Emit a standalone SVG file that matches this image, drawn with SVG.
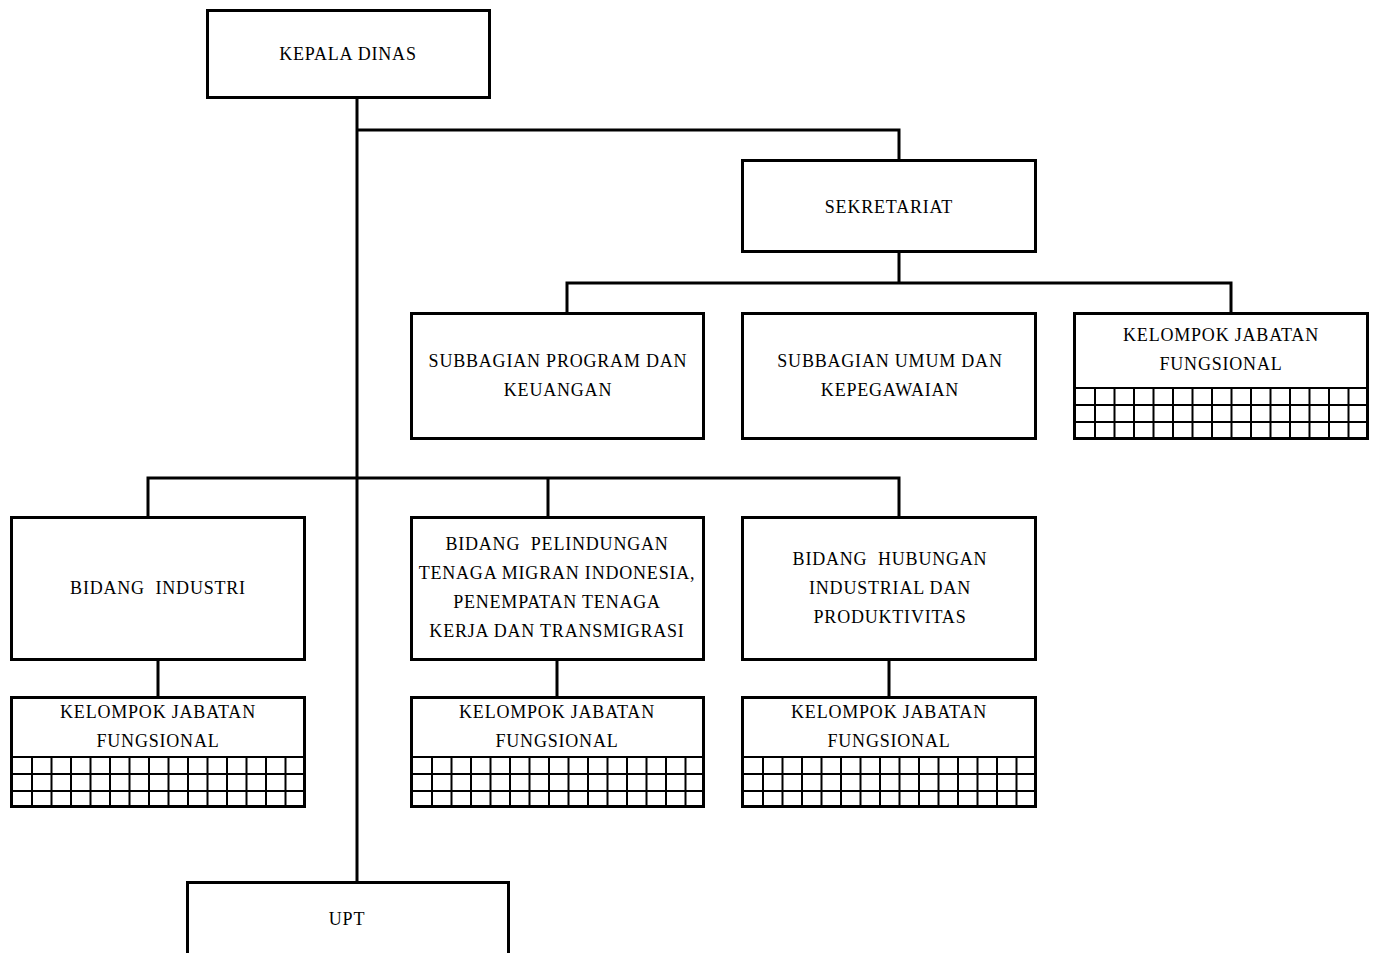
<svg xmlns="http://www.w3.org/2000/svg" width="1377" height="953" viewBox="0 0 1377 953">
<style>
.box{fill:#fff;stroke:#000;stroke-width:3}
.ln{fill:none;stroke:#000;stroke-width:3}
.grid{fill:none;stroke:#000;stroke-width:2}
text{font-family:"Liberation Serif","Times New Roman",serif;font-size:18px;fill:#000;text-anchor:middle;letter-spacing:0.8px;white-space:pre}
</style>
<defs>
<g id="gridA">
<path class="grid" d="M0 0H294M0 17H294M0 34H294M21 0V51M40.5 0V51M60 0V51M79.5 0V51M99 0V51M118.5 0V51M138 0V51M157.5 0V51M177 0V51M196.5 0V51M216 0V51M235.5 0V51M255 0V51M274.5 0V51"/>
</g>
</defs>
<rect width="1377" height="953" fill="#fff"/>
<g id="connectors">
<path class="ln" d="M357 98V882"/>
<path class="ln" d="M357 130H899V160"/>
<path class="ln" d="M899 252V283M567 313V283H1231V313"/>
<path class="ln" d="M148 517V478H899V517M548 478V517"/>
<path class="ln" d="M158 660V697M557 660V697M889 660V697"/>
</g>
<g id="kepala"><rect class="box" x="207.5" y="10.5" width="282" height="87"/><text x="348" y="60">KEPALA DINAS</text></g>
<g id="sekretariat"><rect class="box" x="742.5" y="160.5" width="293" height="91"/><text x="889" y="213">SEKRETARIAT</text></g>
<g id="subprog"><rect class="box" x="411.5" y="313.5" width="292" height="125"/><text x="558" y="367">SUBBAGIAN PROGRAM DAN</text><text x="558" y="396">KEUANGAN</text></g>
<g id="subumum"><rect class="box" x="742.5" y="313.5" width="293" height="125"/><text x="890" y="367">SUBBAGIAN UMUM DAN</text><text x="890" y="396">KEPEGAWAIAN</text></g>
<g id="kjf-sek"><rect class="box" x="1074.5" y="313.5" width="293" height="125"/><text x="1221" y="341">KELOMPOK JABATAN</text><text x="1221" y="370">FUNGSIONAL</text><use href="#gridA" x="1074" y="388"/></g>
<g id="bidind"><rect class="box" x="11.5" y="517.5" width="293" height="142"/><text x="158" y="594">BIDANG  INDUSTRI</text></g>
<g id="bidpel"><rect class="box" x="411.5" y="517.5" width="292" height="142"/><text x="557" y="550">BIDANG  PELINDUNGAN</text><text x="557" y="579">TENAGA MIGRAN INDONESIA,</text><text x="557" y="608">PENEMPATAN TENAGA</text><text x="557" y="637">KERJA DAN TRANSMIGRASI</text></g>
<g id="bidhub"><rect class="box" x="742.5" y="517.5" width="293" height="142"/><text x="890" y="565">BIDANG  HUBUNGAN</text><text x="890" y="594">INDUSTRIAL DAN</text><text x="890" y="623">PRODUKTIVITAS</text></g>
<g id="kjf1"><rect class="box" x="11.5" y="697.5" width="293" height="109"/><text x="158" y="718">KELOMPOK JABATAN</text><text x="158" y="747">FUNGSIONAL</text><use href="#gridA" x="11" y="757"/></g>
<g id="kjf2"><rect class="box" x="411.5" y="697.5" width="292" height="109"/><text x="557" y="718">KELOMPOK JABATAN</text><text x="557" y="747">FUNGSIONAL</text><use href="#gridA" x="411" y="757"/></g>
<g id="kjf3"><rect class="box" x="742.5" y="697.5" width="293" height="109"/><text x="889" y="718">KELOMPOK JABATAN</text><text x="889" y="747">FUNGSIONAL</text><use href="#gridA" x="742" y="757"/></g>
<g id="upt"><rect class="box" x="187.5" y="882.5" width="321" height="80"/><text x="347" y="925">UPT</text></g>
</svg>
